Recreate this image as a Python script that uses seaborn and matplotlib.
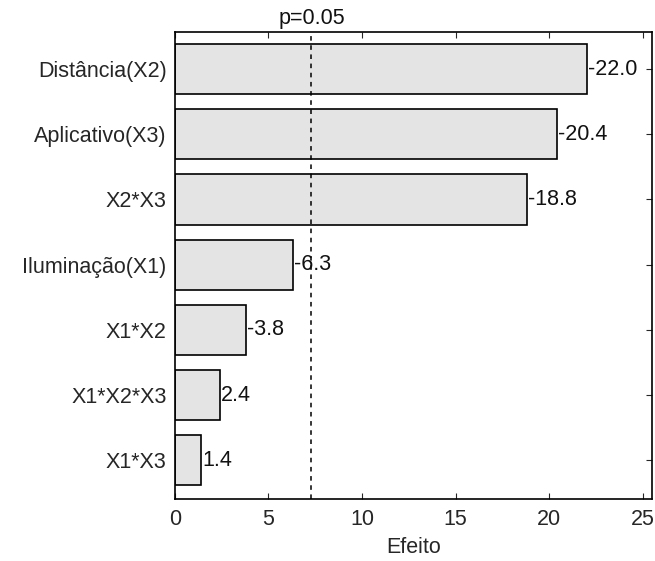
import matplotlib
matplotlib.use("Agg")
import matplotlib.pyplot as plt
import seaborn as sns
import pandas as pd

factors = ["Distância(X2)", "Aplicativo(X3)", "X2*X3", "Iluminação(X1)", "X1*X2", "X1*X2*X3", "X1*X3"]
effects = [-22.0, -20.4, -18.8, -6.3, -3.8, 2.4, 1.4]
p_line = 7.3
xticks = [0, 5, 10, 15, 20, 25]

df = pd.DataFrame({"Fator": factors, "Efeito": [abs(v) for v in effects], "label": [f"{v:.1f}" for v in effects]})

sns.set_style("white")
plt.rcParams["font.family"] = ["Liberation Sans", "DejaVu Sans"]
FS = 15.5

fig = plt.figure(figsize=(6.55, 5.61), dpi=100)
ax = fig.add_axes([0.267, 0.110, 0.728, 0.833])
sns.barplot(data=df, x="Efeito", y="Fator", orient="h", color="#e4e4e4",
            edgecolor="black", linewidth=1.2, width=0.77, saturation=1, ax=ax)

for i, (val, lab) in enumerate(zip(df["Efeito"], df["label"])):
    ax.text(val + 0.05, i, lab, va="center", ha="left", fontsize=FS, color="#111111")

ax.axvline(p_line, color="black", linestyle=(0, (3, 3)), linewidth=1.1)
ax.text(p_line, -0.62, "p=0.05", ha="center", va="bottom", fontsize=FS, color="#111111")

ax.set_xlim(0, 25.48)
ax.set_ylim(len(factors) - 0.4, -0.57)
ax.set_xticks(xticks)
ax.set_xlabel("Efeito", fontsize=FS, labelpad=5)
ax.set_ylabel("")
ax.tick_params(axis="x", direction="in", top=True, bottom=True, labelsize=FS, length=4, pad=7)
ax.tick_params(axis="y", direction="in", left=False, right=True, labelsize=FS, length=4, pad=6)
for s in ax.spines.values():
    s.set_color("black")
    s.set_linewidth(1.2)

fig.savefig("out.png", dpi=100)
